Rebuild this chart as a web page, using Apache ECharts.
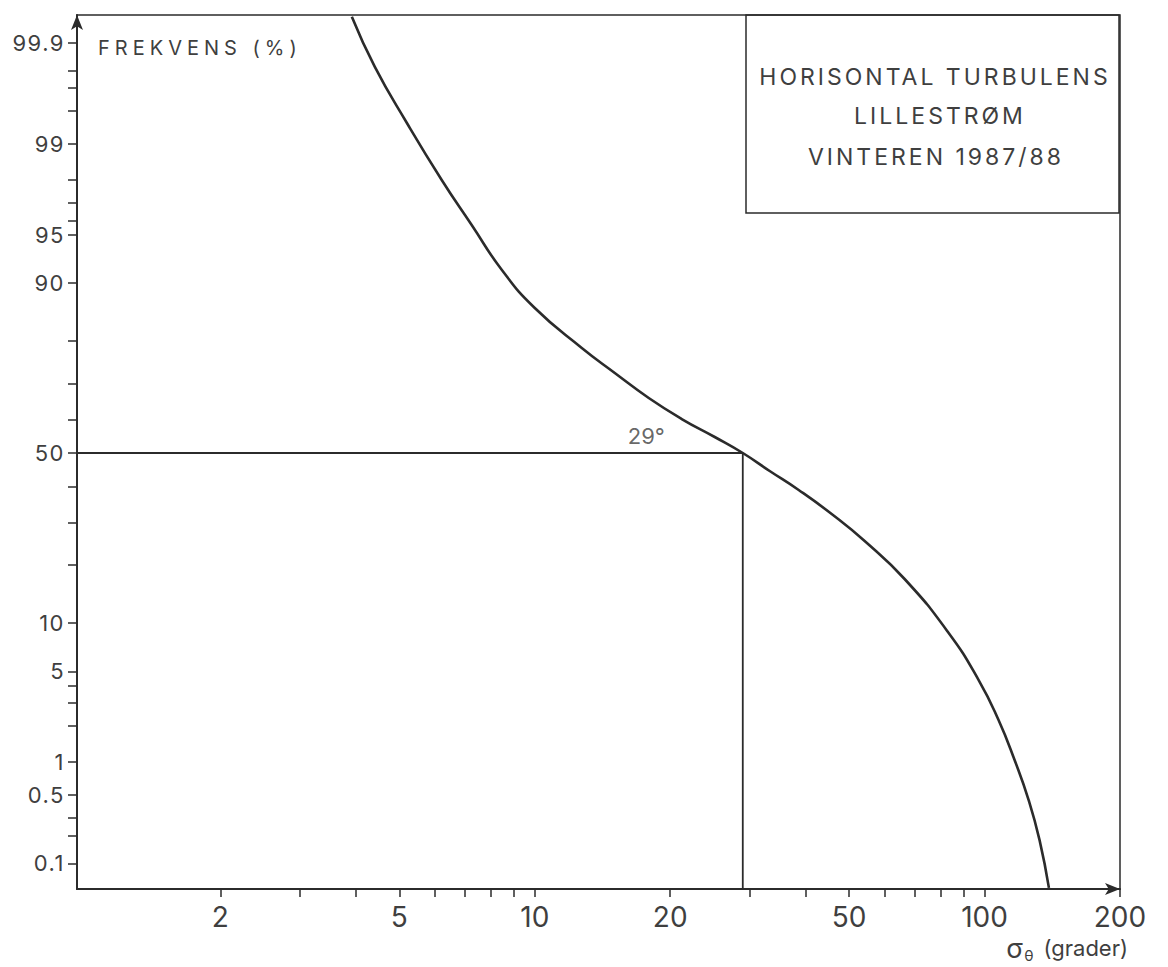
<!DOCTYPE html>
<html>
<head>
<meta charset="utf-8">
<title>Horisontal turbulens – Lillestrøm</title>
<script src="https://cdn.jsdelivr.net/npm/echarts@6/dist/echarts.min.js"></script>
<style>
  html, body { margin: 0; padding: 0; background: #ffffff; }
  #chart { width: 1168px; height: 967px; }
  /* spaced lettering, picked out by the tag in each text's font stack */
  #chart text[style*="spacedWide"] { letter-spacing: 5px; }
  #chart text[style*="spacedMid"] { letter-spacing: 3px; }
  #chart text[style*="spacedNarrow"] { letter-spacing: 1.5px; }
</style>
</head>
<body>
<div id="chart"></div>
<script>
// Cumulative frequency of sigma-theta (horizontal wind direction fluctuation)
const sigmaDeg = [3.92, 4.41, 5.196, 6.21, 7.24, 8.45, 10.0, 12.72, 15.06, 17.92, 21.22, 25.12, 29, 33.28, 38.61, 45.71, 54.12, 66.4, 83.2, 97.0, 107.4, 116.6, 125.3, 132.5, 139];
const freqPct  = [99.949, 99.818, 99.352, 98.01, 95.70, 91.59, 86.25, 78.54, 72.65, 66.06, 60.10, 54.80, 50, 44.61, 39.03, 32.30, 25.38, 17.14, 8.77, 4.37, 2.22, 1.04, 0.449, 0.178, 0.053];

// median crossing
const medianPct = 50;
const medianDeg = 29;

// axis ticks and labels
const xTickDeg  = [2, 3, 4, 5, 6, 7, 8, 9, 10, 20, 30, 40, 50, 60, 70, 80, 90, 100, 200];
const xLabelDeg = [2, 5, 10, 20, 50, 100, 200];
const yTickPct  = [0.1, 0.2, 0.3, 0.5, 1, 2, 3, 4, 5, 10, 20, 30, 40, 50, 60, 70, 80, 90, 95, 96, 97, 98, 99, 99.5, 99.7, 99.8, 99.9];
const yLabelPct = [0.1, 0.5, 1, 5, 10, 50, 90, 95, 99, 99.9];

// axis extents
const X_MIN = 0.96, X_MAX = 200;
const Y_MIN_PCT = 0.0514, Y_MAX_PCT = 99.9513;

// inverse standard normal CDF (Acklam) for the probability axis
function normInv(p) {
  const a = [-3.969683028665376e+01, 2.209460984245205e+02, -2.759285104469687e+02, 1.383577518672690e+02, -3.066479806614716e+01, 2.506628277459239e+00];
  const b = [-5.447609879822406e+01, 1.615858368580409e+02, -1.556989798598866e+02, 6.680131188771972e+01, -1.328068155288572e+01];
  const c = [-7.784894002430293e-03, -3.223964580411365e-01, -2.400758277161838e+00, -2.549732539343734e+00, 4.374664141464968e+00, 2.938163982698783e+00];
  const d = [7.784695709041462e-03, 3.224671290700398e-01, 2.445134137142996e+00, 3.754408661907416e+00];
  const pl = 0.02425, ph = 1 - pl;
  let q, r;
  if (p < pl) {
    q = Math.sqrt(-2 * Math.log(p));
    return (((((c[0]*q+c[1])*q+c[2])*q+c[3])*q+c[4])*q+c[5]) / ((((d[0]*q+d[1])*q+d[2])*q+d[3])*q+1);
  }
  if (p <= ph) {
    q = p - 0.5; r = q * q;
    return (((((a[0]*r+a[1])*r+a[2])*r+a[3])*r+a[4])*r+a[5])*q / (((((b[0]*r+b[1])*r+b[2])*r+b[3])*r+b[4])*r+1);
  }
  q = Math.sqrt(-2 * Math.log(1 - p));
  return -(((((c[0]*q+c[1])*q+c[2])*q+c[3])*q+c[4])*q+c[5]) / ((((d[0]*q+d[1])*q+d[2])*q+d[3])*q+1);
}
const zOf = pct => normInv(pct / 100);   // probability scale
const lx = deg => Math.log10(deg);         // logarithmic scale

function labelFor(list, fn) {
  return v => {
    const hit = list.find(item => Math.abs(fn(item) - v) < 1e-6);
    return hit === undefined ? '' : String(hit);
  };
}

const INK = '#2b2b2b';
const TEXT = '#3f3f3f';
const FONT = 'Inter, spacedNone, sans-serif';

const chart = echarts.init(document.getElementById('chart'), null, { renderer: 'svg' });

chart.setOption({
  animation: false,
  backgroundColor: '#ffffff',
  grid: {
    left: 77, right: 48, top: 15, bottom: 78,
    show: true, borderColor: INK, borderWidth: 1.5, backgroundColor: 'transparent'
  },
  xAxis: {
    type: 'value',
    min: lx(X_MIN), max: lx(X_MAX),
    axisLine: { onZero: false, lineStyle: { color: INK, width: 2 }, symbol: ['none', 'arrow'], symbolSize: [9, 15] },
    axisTick: { customValues: xTickDeg.map(lx), length: 8, lineStyle: { color: INK, width: 1.5 } },
    axisLabel: {
      customValues: xLabelDeg.map(lx),
      formatter: labelFor(xLabelDeg, lx),
      fontFamily: FONT, fontSize: 28, color: TEXT, margin: 14
    },
    splitLine: { show: false }
  },
  yAxis: {
    type: 'value',
    min: zOf(Y_MIN_PCT), max: zOf(Y_MAX_PCT),
    axisLine: { onZero: false, lineStyle: { color: INK, width: 2 }, symbol: ['none', 'arrow'], symbolSize: [9, 15] },
    axisTick: { customValues: yTickPct.map(zOf), length: 9, lineStyle: { color: INK, width: 1.5 } },
    axisLabel: {
      customValues: yLabelPct.map(zOf),
      formatter: labelFor(yLabelPct, zOf),
      fontFamily: 'Inter, spacedNarrow, sans-serif', fontSize: 22, color: TEXT, margin: 12
    },
    splitLine: { show: false }
  },
  series: [
    {
      name: 'frekvens',
      type: 'line',
      data: sigmaDeg.map((d, i) => [lx(d), zOf(freqPct[i])]),
      smooth: 0.5,
      showSymbol: false,
      lineStyle: { color: INK, width: 2.6 },
      z: 4
    },
    {
      name: 'median',
      type: 'line',
      data: [
        [lx(X_MIN), zOf(medianPct)],
        [lx(medianDeg), zOf(medianPct)],
        [lx(medianDeg), zOf(Y_MIN_PCT)]
      ],
      showSymbol: false,
      lineStyle: { color: INK, width: 1.8 },
      z: 3
    },
    {
      name: 'median-label',
      type: 'scatter',
      symbolSize: 0,
      // label sits above the median line, left of the crossing
      data: [[lx(17.7), zOf(medianPct)]],
      label: {
        show: true, position: 'top', distance: 6,
        formatter: () => medianDeg + '°',
        fontFamily: FONT, fontSize: 22, color: TEXT
      },
      z: 5
    }
  ],
  graphic: [
    {
      type: 'text', x: 98, y: 48,
      style: {
        text: 'FREKVENS (%)', fill: TEXT,
        font: '20px Inter, spacedWide, sans-serif',
        align: 'left', verticalAlign: 'middle', textAlign: 'left', textVerticalAlign: 'middle'
      }
    },
    {
      type: 'rect',
      shape: { x: 746, y: 15, width: 373, height: 198 },
      style: { fill: 'transparent', stroke: INK, lineWidth: 1.5 }
    },
    {
      type: 'text', x: 935, y: 77,
      style: {
        text: 'HORISONTAL TURBULENS', fill: TEXT,
        font: '23px Inter, spacedMid, sans-serif',
        align: 'center', verticalAlign: 'middle', textAlign: 'center', textVerticalAlign: 'middle'
      }
    },
    {
      type: 'text', x: 940, y: 116,
      style: {
        text: 'LILLESTRØM', fill: TEXT,
        font: '23px Inter, spacedMid, sans-serif',
        align: 'center', verticalAlign: 'middle', textAlign: 'center', textVerticalAlign: 'middle'
      }
    },
    {
      type: 'text', x: 936, y: 157,
      style: {
        text: 'VINTEREN 1987/88', fill: TEXT,
        font: '23px Inter, spacedMid, sans-serif',
        align: 'center', verticalAlign: 'middle', textAlign: 'center', textVerticalAlign: 'middle'
      }
    },
    {
      type: 'text', x: 1128, y: 948,
      style: {
        text: '{s|σ}{t|θ}{g|(grader)}',
        fill: TEXT,
        font: '22px Inter, sans-serif',
        align: 'right', verticalAlign: 'middle', textAlign: 'right', textVerticalAlign: 'middle',
        rich: {
          s: { fontFamily: FONT, fontSize: 27, lineHeight: 30, fill: TEXT, color: TEXT },
          t: { fontFamily: FONT, fontSize: 15, lineHeight: 14, verticalAlign: 'bottom', fill: TEXT, color: TEXT, padding: [0, 10, 0, 1] },
          g: { fontFamily: FONT, fontSize: 22, lineHeight: 30, fill: TEXT, color: TEXT }
        }
      }
    }
  ]
});
</script>
</body>
</html>
